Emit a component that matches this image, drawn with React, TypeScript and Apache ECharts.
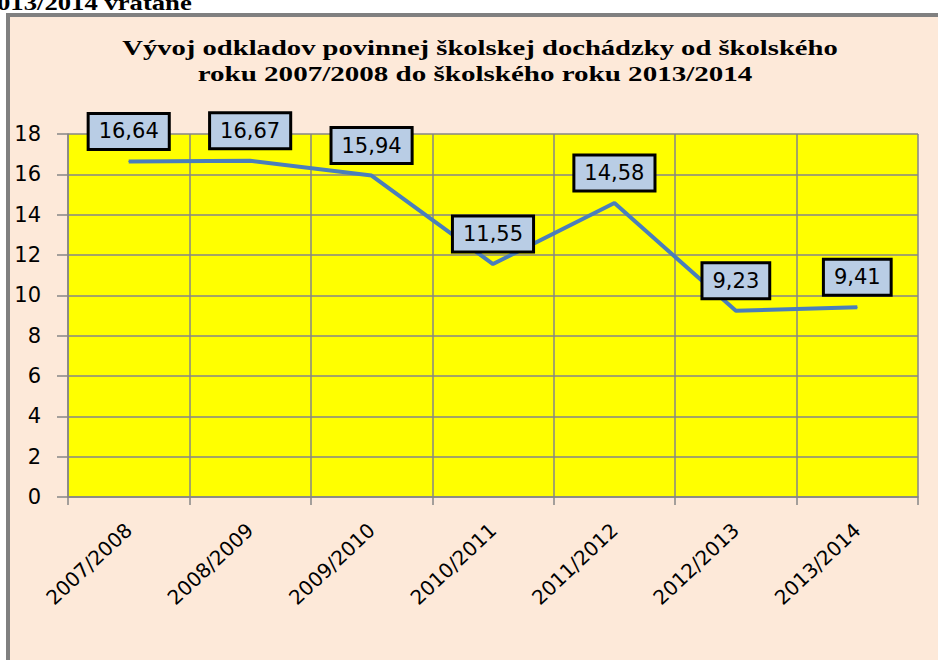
import React, { useEffect, useRef } from "react";
import * as echarts from "echarts";

const categories = ["2007/2008", "2008/2009", "2009/2010", "2010/2011", "2011/2012", "2012/2013", "2013/2014"];
const values = [16.64, 16.67, 15.94, 11.55, 14.58, 9.23, 9.41];
const titleLine1 = "Vývoj odkladov povinnej školskej dochádzky od školského";
const titleLine2 = "roku 2007/2008 do školského roku 2013/2014";
const topCutText = "013/2014 vrátane";
const yMin = 0;
const yMax = 18;
const yStep = 2;

const TITLE_FONT = "bold 22px 'Liberation Serif'";

function measure(text: string, font: string): number {
  const c = document.createElement("canvas");
  const ctx = c.getContext("2d");
  if (!ctx) return text.length * 10;
  ctx.font = font;
  return ctx.measureText(text).width;
}

export default function App() {
  const ref = useRef<HTMLDivElement>(null);
  useEffect(() => {
    if (!ref.current) return;
    const chart = echarts.init(ref.current, null, { renderer: "svg" });
    const s1 = 716 / measure(titleLine1, TITLE_FONT);
    const s2 = 555 / measure(titleLine2, TITLE_FONT);
    const s3 = 195 / measure(topCutText, TITLE_FONT);
    chart.setOption({
      animation: false,
      backgroundColor: "transparent",
      graphic: [
        {
          type: "text",
          x: -3,
          y: 2,
          scaleX: s3,
          style: { x: 0, y: 0, text: topCutText, font: TITLE_FONT, fill: "#000", textAlign: "left", verticalAlign: "middle" },
        },
        {
          type: "text",
          x: 480,
          y: 48,
          scaleX: s1,
          style: { x: 0, y: 0, text: titleLine1, font: TITLE_FONT, fill: "#000", textAlign: "center", verticalAlign: "middle" },
        },
        {
          type: "text",
          x: 475,
          y: 74,
          scaleX: s2,
          style: { x: 0, y: 0, text: titleLine2, font: TITLE_FONT, fill: "#000", textAlign: "center", verticalAlign: "middle" },
        },
      ],
      grid: {
        left: 68,
        right: 20,
        top: 134,
        bottom: 163,
        show: true,
        backgroundColor: "#ffff00",
        borderWidth: 0,
      },
      xAxis: {
        type: "category",
        data: categories,
        boundaryGap: true,
        axisLine: { show: true, lineStyle: { color: "#868686", width: 1.5 } },
        axisTick: { show: true, length: 8, lineStyle: { color: "#868686", width: 1.5 } },
        splitLine: { show: true, lineStyle: { color: "#868686", width: 1.5 } },
        axisLabel: {
          rotate: 43,
          margin: 30,
          color: "#000",
          fontSize: 20,
          fontFamily: "DejaVu Sans",
          interval: 0,
        },
      },
      yAxis: {
        type: "value",
        min: yMin,
        max: yMax,
        interval: yStep,
        axisLine: { show: true, lineStyle: { color: "#868686", width: 1.5 } },
        axisTick: { show: true, length: 11, lineStyle: { color: "#868686", width: 1.5 } },
        splitLine: { show: true, lineStyle: { color: "#868686", width: 1.5 } },
        axisLabel: {
          margin: 27,
          color: "#000",
          fontSize: 21,
          fontFamily: "DejaVu Sans",
        },
      },
      series: [
        {
          type: "line",
          data: values,
          symbol: "circle",
          symbolSize: 1,
          showSymbol: true,
          itemStyle: { color: "#4a7ebb" },
          lineStyle: { color: "#4a7ebb", width: 4 },
          label: {
            show: true,
            position: "top",
            distance: 13,
            formatter: (p: any) => Number(p.value).toFixed(2).replace(".", ","),
            color: "#000",
            fontSize: 21,
            fontFamily: "DejaVu Sans",
            lineHeight: 25,
            backgroundColor: "#b9cde5",
            borderColor: "#000",
            borderWidth: 3,
            padding: [4, 9, 4, 9],
          },
        },
      ],
    });
    return () => chart.dispose();
  }, []);

  return (
    <div style={{ position: "fixed", left: 0, top: 0, width: 938, height: 660, background: "#fff", overflow: "hidden" }}>
      <div
        style={{
          position: "absolute",
          left: 6,
          top: 13,
          width: 960,
          height: 700,
          background: "#fde9d9",
          borderLeft: "4px solid #808080",
          borderTop: "4px solid #808080",
        }}
      />
      <div ref={ref} style={{ position: "absolute", left: 0, top: 0, width: 938, height: 660 }} />
    </div>
  );
}
